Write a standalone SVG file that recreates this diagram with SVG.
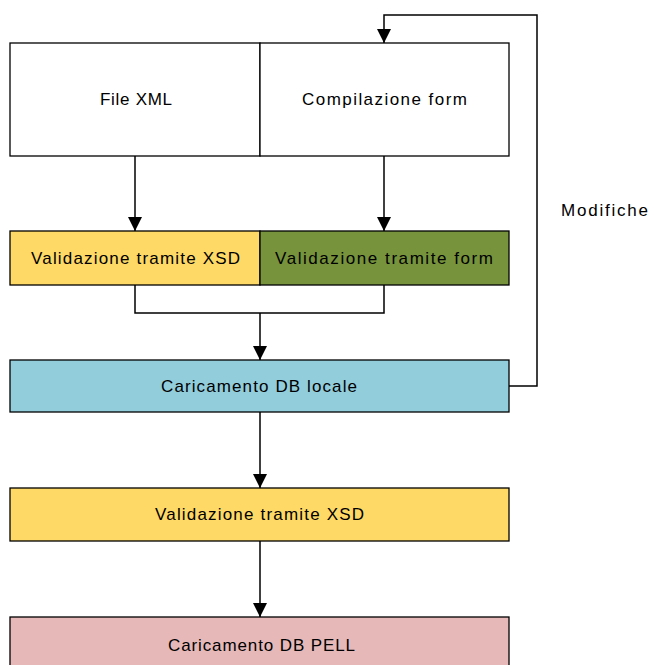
<svg xmlns="http://www.w3.org/2000/svg" width="649" height="665" viewBox="0 0 649 665">
<style>
.box{stroke:#000;stroke-width:1.3}
.t{font-family:"Liberation Sans",Arial,sans-serif;font-size:17px;fill:#000;text-anchor:middle;dominant-baseline:central}
.c{fill:none;stroke:#000;stroke-width:1.5}
</style>
<defs>
<marker id="ah" markerWidth="14" markerHeight="14" refX="14" refY="7" orient="auto" markerUnits="userSpaceOnUse">
<path d="M0,0 L14,7 L0,14 Z" fill="#000"/>
</marker>
</defs>
<rect width="649" height="665" fill="#fff"/>
<g id="n-filexml"><rect class="box" x="10" y="43" width="250" height="113" fill="#fff"/><text class="t" x="136" y="99.5" textLength="72" lengthAdjust="spacing">File XML</text></g>
<g id="n-compilazione"><rect class="box" x="260" y="43" width="249" height="113" fill="#fff"/><text class="t" x="384.5" y="99.5" textLength="165" lengthAdjust="spacing">Compilazione form</text></g>
<g id="n-valxsd1"><rect class="box" x="10" y="231" width="250" height="54" fill="#FFD966"/><text class="t" x="135.5" y="258" textLength="209" lengthAdjust="spacing">Validazione tramite XSD</text></g>
<g id="n-valform"><rect class="box" x="260" y="231" width="249" height="54" fill="#77933C"/><text class="t" x="384" y="258" textLength="218" lengthAdjust="spacing">Validazione tramite form</text></g>
<g id="n-dblocale"><rect class="box" x="10" y="360" width="499" height="52" fill="#92CDDC"/><text class="t" x="259" y="386" textLength="196" lengthAdjust="spacing">Caricamento DB locale</text></g>
<g id="n-valxsd2"><rect class="box" x="10" y="488" width="499" height="53" fill="#FFD966"/><text class="t" x="259.5" y="514.5" textLength="209" lengthAdjust="spacing">Validazione tramite XSD</text></g>
<g id="n-dbpell"><rect class="box" x="10" y="617" width="499" height="60" fill="#E6B9B8"/><text class="t" x="261.5" y="645" textLength="187" lengthAdjust="spacing">Caricamento DB PELL</text></g>
<g id="connectors">
<path class="c" d="M135,156 V231" marker-end="url(#ah)"/>
<path class="c" d="M384,156 V231" marker-end="url(#ah)"/>
<path class="c" d="M135,285 V313 H384 V285"/>
<path class="c" d="M260,313 V360" marker-end="url(#ah)"/>
<path class="c" d="M260,412 V488" marker-end="url(#ah)"/>
<path class="c" d="M260,541 V617" marker-end="url(#ah)"/>
<path class="c" d="M509,386 H537 V15 H384 V43" marker-end="url(#ah)"/>
<text class="t" x="604.5" y="210" textLength="87" lengthAdjust="spacing">Modifiche</text>
</g>
</svg>
